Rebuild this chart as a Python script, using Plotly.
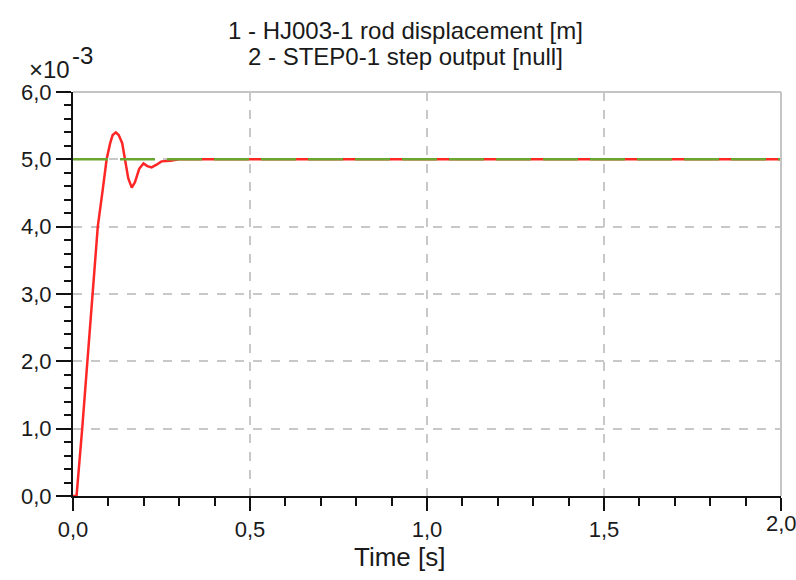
import plotly.graph_objects as go

# ---- data (y in units of 1e-3 m) ----
t_rod = [0.0, 0.010, 0.026, 0.041, 0.057, 0.070, 0.084, 0.095, 0.105, 0.112, 0.121,
         0.129, 0.139, 0.147, 0.156, 0.166, 0.175, 0.187, 0.199, 0.210, 0.222, 0.236,
         0.250, 0.275, 0.300, 0.500, 1.000, 1.500, 2.000]
y_rod = [0.0, 0.0, 1.0, 2.0, 3.0, 4.0, 4.55, 5.0, 5.24, 5.36, 5.40,
         5.36, 5.24, 5.0, 4.72, 4.58, 4.66, 4.86, 4.94, 4.90, 4.88, 4.92,
         4.97, 4.98, 5.0, 5.0, 5.0, 5.0, 5.0]
t_step = [0.0, 2.0]
y_step = [5.0, 5.0]

title_lines = ["1 - HJ003-1 rod displacement [m]", "2 - STEP0-1 step output [null]"]
x_title = "Time [s]"
x_ticks = [0.0, 0.5, 1.0, 1.5, 2.0]
y_ticks = [0.0, 1.0, 2.0, 3.0, 4.0, 5.0, 6.0]

FONT = "Liberation Sans, Arial, sans-serif"
TXT = "#1a1a1a"

# plot area in pixels
L, R, T, B = 73, 781, 92, 496
W, H = 796, 580

def px(x):
    return (x - L) / (R - L)

def py(y):
    return (B - y) / (B - T)

fig = go.Figure()
fig.add_trace(go.Scatter(x=t_rod, y=y_rod, mode="lines",
                         line=dict(color="#ff2626", width=2.5), showlegend=False))
fig.add_trace(go.Scatter(x=t_step, y=y_step, mode="lines",
                         line=dict(color="#6aa632", width=2.5, dash="35px,12px"),
                         showlegend=False))

axis_common = dict(showline=True, linecolor="#111111", linewidth=2,
                   ticks="outside", tickcolor="#111111", tickwidth=2,
                   showgrid=True, gridcolor="#c8c8c8", gridwidth=1.5, griddash="dash",
                   zeroline=False, automargin=False,
                   tickfont=dict(family=FONT, size=22, color=TXT),
                   tickformat=".1f")

fig.update_xaxes(range=[0, 2], tickvals=x_ticks, ticklen=13,
                 minor=dict(dtick=0.1, ticklen=8, ticks="outside", tickcolor="#111111",
                            tickwidth=2, showgrid=False),
                 **axis_common)
fig.update_yaxes(range=[0, 6], tickvals=y_ticks, ticklen=15,
                 minor=dict(dtick=0.2, ticklen=7, ticks="outside", tickcolor="#111111",
                            tickwidth=2, showgrid=False),
                 **axis_common)

# light gray frame on top and right
fig.add_shape(type="line", xref="paper", yref="paper", x0=0, x1=1, y0=1, y1=1,
              line=dict(color="#c4c4c4", width=2))
fig.add_shape(type="line", xref="paper", yref="paper", x0=1, x1=1, y0=0, y1=1,
              line=dict(color="#c4c4c4", width=2))

def ann(text, x, y, size, xref="paper"):
    fig.add_annotation(text=text, xref=xref, yref="paper",
                       x=(px(x) if xref == "paper" else x), y=py(y),
                       showarrow=False, font=dict(family=FONT, size=size, color=TXT),
                       xanchor="center", yanchor="middle")

for i, line in enumerate(title_lines):
    ann(line, 405, 30 + 27 * i, 24)
ann(x_title, 399, 557, 26)
ann("×10", 49, 70, 24)
ann("-3", 82, 56, 24)
# last x tick label (plotly hides it because it overflows the page edge)
ann(f"{x_ticks[-1]:.1f}".replace(".", ","), x_ticks[-1], 523, 22, xref="x")

fig.update_layout(width=W, height=H, autosize=False,
                  margin=dict(l=L, r=W - R, t=T, b=H - B),
                  paper_bgcolor="white", plot_bgcolor="white",
                  separators=",.", font=dict(family=FONT, color=TXT))

fig.write_html("out.html")
